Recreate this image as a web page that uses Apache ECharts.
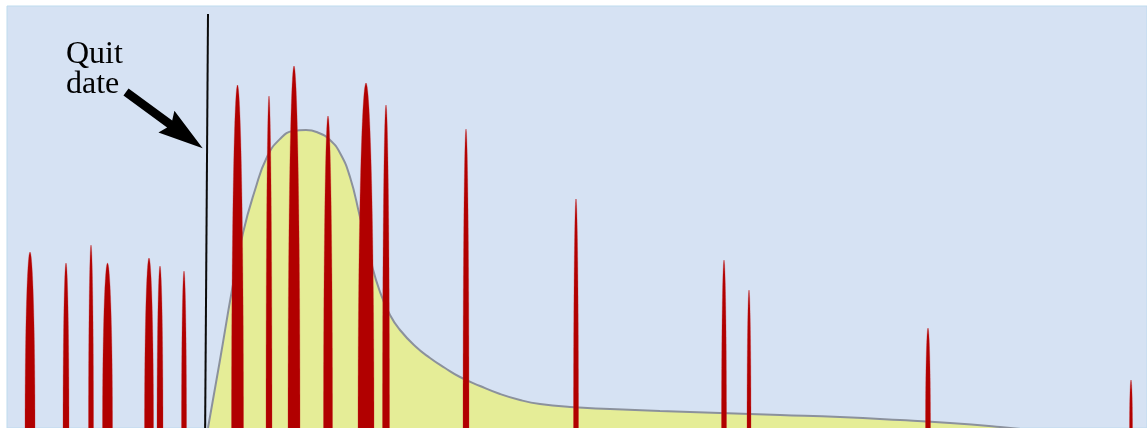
<!DOCTYPE html>
<html>
<head>
<meta charset="utf-8">
<script src="https://cdn.jsdelivr.net/npm/echarts@6/dist/echarts.min.js"></script>
<style>
html,body{margin:0;padding:0;background:#ffffff;}
#chart{width:1147px;height:428px;}
</style>
</head>
<body>
<div id="chart"></div>
<script>
// Smoothed curve (x = time units, y = level)
const curveX = [201, 213, 225, 236, 248, 260, 273, 286, 299, 312, 323, 333, 343, 353, 363, 373, 383, 393, 408, 423, 438, 453, 473, 493, 513, 533, 563, 603, 653, 713, 773, 833, 893, 943, 993, 1023];
const curveY = [0, 68, 138, 195, 238, 271, 289, 297, 298, 295, 288, 275, 251, 211, 170, 136, 113, 98, 82, 70, 60, 51, 42, 34, 28, 24, 21, 19, 17, 15, 13, 11, 8, 5, 1, -2];

// Spikes: position, peak height, base width (in x units)
const spikeX = [23, 59, 84, 100.5, 142, 153, 177, 230.5, 262, 287, 321, 359, 379, 459, 569, 717, 742, 921, 1124];
const spikePeak = [176, 165, 183, 165, 170, 162, 157, 343, 332, 362, 312, 345, 323, 299, 229, 168, 138, 100, 48];
const spikeWidth = [10, 6, 5, 10, 9, 6, 5, 12, 6, 12, 9, 16, 7, 6, 5, 5, 4, 5, 3];

// Quit date marker line and annotation arrow
const quitLineX = [201, 198];
const quitLineY = [414, -20];
const arrowFrom = [119, 336];
const arrowTo = [195.7, 279.7];
const annotationText = ['Quit', 'date'];

const chart = echarts.init(document.getElementById('chart'), null, {renderer: 'canvas'});

const curveData = curveX.map((x, i) => [x, curveY[i]]);
const spikeData = spikeX.map((x, i) => [x, spikePeak[i], spikeWidth[i]]);
const quitData = quitLineX.map((x, i) => [x, quitLineY[i]]);

function renderSpike(params, api) {
  const x = api.value(0), peak = api.value(1), w = api.value(2);
  const c = api.coord([x, 0]);
  const top = api.coord([x, peak]);
  const a = api.size([w, 0])[0] / 2;
  const b = c[1] - top[1];
  const pts = [];
  pts.push([c[0] + a, c[1] + 20]);
  const N = 60;
  for (let k = 0; k <= N; k++) {
    const t = Math.PI * k / N;
    pts.push([c[0] + a * Math.cos(t), c[1] - b * Math.sin(t)]);
  }
  pts.push([c[0] - a, c[1] + 20]);
  return {
    type: 'polygon',
    shape: {points: pts},
    style: {fill: '#b10000', stroke: 'rgba(200,40,40,0.5)', lineWidth: 0.6}
  };
}

function renderArrow(params, api) {
  const p1 = api.coord([api.value(0), api.value(1)]);
  const p2 = api.coord([api.value(2), api.value(3)]);
  const dx = p2[0] - p1[0], dy = p2[1] - p1[1];
  const len = Math.sqrt(dx * dx + dy * dy);
  const ux = dx / len, uy = dy / len;
  const px = -uy, py = ux;
  const sw = 4.3, headLen = 45, headW = 13.5, notch = 41;
  const P = (along, perp) => [p2[0] + ux * along + px * perp, p2[1] + uy * along + py * perp];
  const pts = [
    [p1[0] + px * sw, p1[1] + py * sw],
    P(-notch, sw),
    P(-headLen, headW),
    [p2[0], p2[1]],
    P(-headLen, -headW),
    P(-notch, -sw),
    [p1[0] - px * sw, p1[1] - py * sw]
  ];
  return {type: 'polygon', shape: {points: pts}, style: {fill: '#000000'}};
}

const option = {
  animation: false,
  grid: {
    left: 7, right: 0, top: 6, bottom: 0,
    show: true,
    backgroundColor: '#d6e2f3',
    borderColor: '#bedbee',
    borderWidth: 1
  },
  xAxis: {type: 'value', min: 0, max: 1140, show: false},
  yAxis: {type: 'value', min: 0, max: 422, show: false},
  series: [
    {
      type: 'line',
      data: curveData,
      smooth: 0.5,
      symbol: 'none',
      clip: true,
      lineStyle: {color: '#8b919c', width: 2},
      areaStyle: {color: '#e5ed97', opacity: 1, origin: 'start'},
      z: 2
    },
    {
      type: 'custom',
      data: spikeData,
      renderItem: renderSpike,
      clip: true,
      z: 3
    },
    {
      type: 'line',
      data: quitData,
      symbol: 'none',
      clip: false,
      lineStyle: {color: '#0a0a0a', width: 2},
      z: 4
    },
    {
      type: 'custom',
      data: [[arrowFrom[0], arrowFrom[1], arrowTo[0], arrowTo[1]]],
      renderItem: renderArrow,
      clip: false,
      z: 5
    }
  ],
  graphic: [
    {
      type: 'text',
      left: 66,
      top: 39,
      z: 10,
      style: {
        text: annotationText.join('\n'),
        font: '32px "Liberation Serif", serif',
        lineHeight: 30,
        fill: '#000000'
      }
    }
  ]
};

chart.setOption(option);
</script>
</body>
</html>
